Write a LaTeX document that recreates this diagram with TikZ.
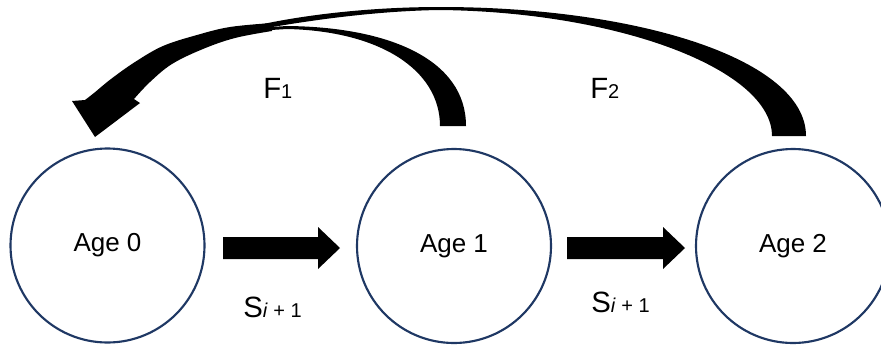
\documentclass[tikz,border=0pt]{standalone}
\usepackage{fontspec}
\setmainfont{Liberation Sans}
\usetikzlibrary{calc}
\definecolor{ringblue}{HTML}{1F3864}
\newcommand\lblbig[1]{{\fontsize{22}{22}\selectfont #1}}
\newcommand\lblsmall[1]{{\fontsize{15}{15}\selectfont #1}}
\tikzset{
  agecircle/.style={circle, draw=ringblue, line width=1.6pt, minimum size=145.5pt,
    inner sep=0pt, font=\fontsize{19.5}{19.5}\selectfont},
  lbl/.style={anchor=base west, inner sep=0pt},
  blk/.style={fill=black, draw=none}
}
\begin{document}
\begin{tikzpicture}[x=0.75pt, y=-0.75pt]
\useasboundingbox (0,0) rectangle (881,350);

% the three age classes
\node[agecircle] (a0) at (107.5,245.5) {Age 0};
\node[agecircle] (a1) at (454,246) {Age 1};
\node[agecircle] (a2) at (793,246) {Age 2};

% survival block arrows
\coordinate (s1a) at (223,248);
\coordinate (s1b) at (340,248);
\coordinate (s2a) at (567,248);
\coordinate (s2b) at (685,248);
\fill[blk] (s1a) ++(0,-11) -- ++(95,0) -- ++(0,-10) -- (s1b) -- ++(-22,21) -- ++(0,-10) -- ++(-95,0) -- cycle;
\fill[blk] (s2a) ++(0,-11) -- ++(96,0) -- ++(0,-10) -- (s2b) -- ++(-22,21) -- ++(0,-10) -- ++(-96,0) -- cycle;

% fecundity arc from Age 1
\fill[blk] (466,126) .. controls (466,60) and (390,27) .. (287,26) -- (255,28)
  -- (255,31) -- (287,29) .. controls (380,31) and (440,70) .. (440,126) -- cycle;

% fecundity arc from Age 2
\fill[blk] (806,136) .. controls (806,60) and (640,7) .. (440,7)
  .. controls (370,7) and (300,15) .. (250,27)
  -- (255,30) .. controls (300,22) and (370,11) .. (440,10)
  .. controls (620,12) and (772,70) .. (772,136) -- cycle;

% shared tail with arrow head into Age 0
\fill[blk] plot[smooth, tension=0.6] coordinates {(272,23) (230,27) (197,35) (163,46) (135,62) (111,79) (94,93) (85,100)}
  -- (72,101) -- (95,137) -- (140,103) --
  plot[smooth, tension=0.6] coordinates {(134,99) (150,82) (172,64) (203,49) (235,38) (272,31)} -- cycle;

% labels
\node[lbl] (f1) at (263,98) {\lblbig{F}\lblsmall{1}};
\node[lbl] (f2) at (590,98) {\lblbig{F}\lblsmall{2}};
\node[lbl] (l1) at (243,317) {\lblbig{S}\lblsmall{\textit{i} + 1}};
\node[lbl] (l2) at (591,312) {\lblbig{S}\lblsmall{\textit{i} + 1}};
\end{tikzpicture}
\end{document}
